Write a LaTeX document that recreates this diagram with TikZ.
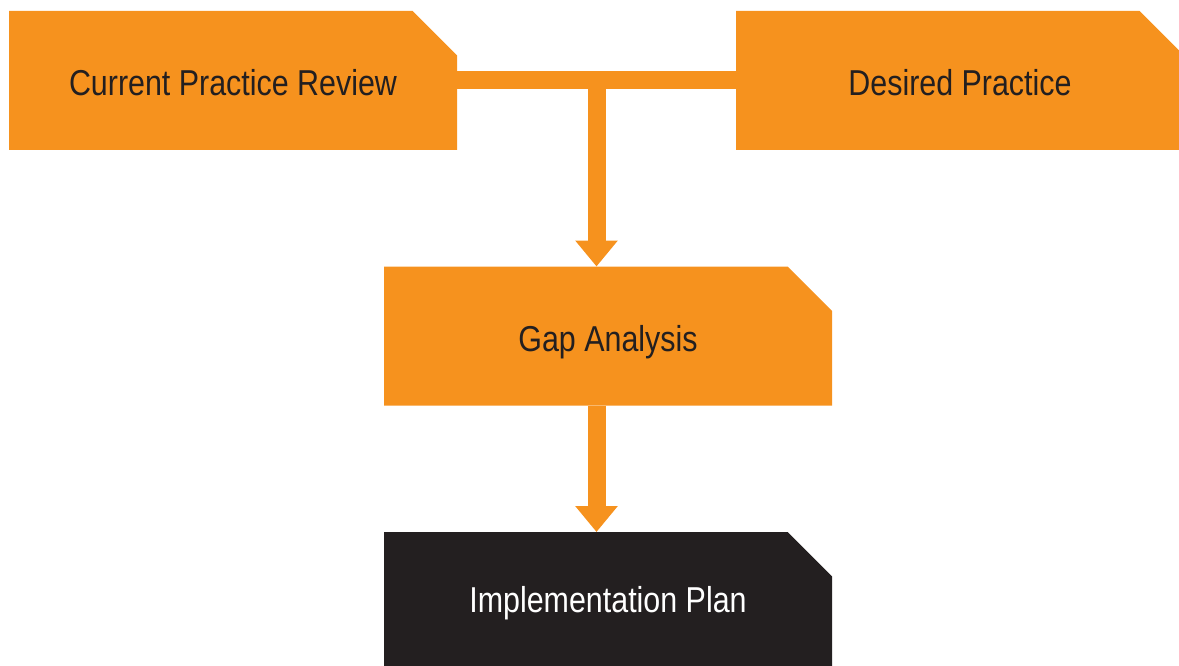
\documentclass[tikz,border=0pt]{standalone}
\usepackage{fontspec}
\setmainfont{Liberation Sans}[FakeStretch=0.845]
\usepackage{xcolor}
\usepackage{tikz}
\usetikzlibrary{shapes.misc,arrows.meta,calc}
\definecolor{gaporange}{HTML}{F6921E}
\definecolor{gapblack}{HTML}{231F20}

\begin{document}
\begin{tikzpicture}[x=1pt,y=-1pt,
        stagebox/.style={chamfered rectangle,chamfered rectangle corners=north east,
            chamfered rectangle xsep=29pt,chamfered rectangle ysep=29pt,
            minimum width=448pt,minimum height=139pt,inner sep=0pt,outer sep=0pt,
            text height=31pt,text depth=0pt,
            fill=gaporange,text=gapblack,font=\fontsize{36}{40}\selectfont},
        planbox/.style={stagebox,fill=gapblack,text=white,text height=26pt,text depth=5pt},
        flowbar/.style={line width=18pt,draw=gaporange},
        flowarrow/.style={flowbar,-{Triangle[width=41pt,length=26pt]}}]
        \clip (0,0) rectangle (1179,666);
        \node[stagebox] (current) at (233,80.5) {Current Practice Review};
        \node[stagebox] (desired) at (960,80.5) {Desired Practice};
        \node[stagebox] (gap) at (608,336) {Gap Analysis};
        \node[planbox] (plan) at (608,601.5) {Implementation Plan};
        \coordinate (join) at ($(current.east)!0.5!(desired.west)$);
        \draw[flowbar] (current.east)--(desired.west);
        \draw[flowarrow] (join)--(join |- gap.north);
        \draw[flowarrow] (join |- gap.south)--(join |- plan.north);
    \end{tikzpicture}
\end{document}
